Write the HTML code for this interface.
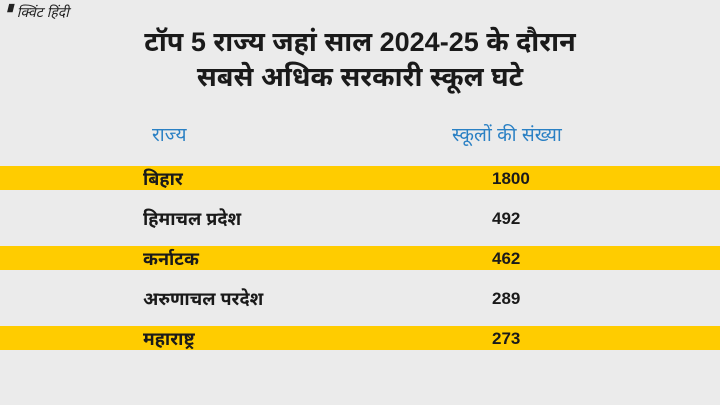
<!DOCTYPE html>
<html><head><meta charset="utf-8"><style>
body{margin:0;width:720px;height:405px;background:#ebebeb;overflow:hidden;position:relative;font-family:"Liberation Sans","Noto Sans Devanagari","Lohit Devanagari",sans-serif;}
.abs{position:absolute;white-space:nowrap;}
.title{left:0;width:720px;text-align:center;font-size:27px;font-weight:bold;color:#1a1a1a;}
.hdr{top:124px;font-size:19px;color:#2a80c4;}
.band{left:0;width:720px;height:24px;background:#ffcc00;}
.lbl{left:143px;font-size:18px;font-weight:bold;color:#1a1a1a;}
.val{left:492px;font-size:17px;font-weight:bold;color:#1a1a1a;}
</style></head><body>
<div class="abs" style="left:6px;top:4px;font-size:14px;font-style:italic;color:#222">▘क्विंट हिंदी</div>
<div class="abs title" style="top:27px">टॉप 5 राज्य जहां साल 2024-25 के दौरान</div>
<div class="abs title" style="top:62px">सबसे अधिक सरकारी स्कूल घटे</div>
<div class="abs hdr" style="left:152px">राज्य</div>
<div class="abs hdr" style="left:452px">स्कूलों की संख्या</div>
<div id="rows"></div>
<script>
const states=["बिहार","हिमाचल प्रदेश","कर्नाटक","अरुणाचल परदेश","महाराष्ट्र"];
const counts=[1800,492,462,289,273];
const rows=document.getElementById('rows');
states.forEach((s,i)=>{
  const y=166+i*40;
  if(i%2===0){
    const b=document.createElement('div');
    b.className='abs band';b.style.top=y+'px';
    
    
    rows.appendChild(b);
  }
  const l=document.createElement('div');
  l.className='abs lbl';l.style.top=(y+3)+'px';l.textContent=s;
  
  
  rows.appendChild(l);
  const v=document.createElement('div');
  v.className='abs val';v.style.top=(y+3)+'px';v.textContent=counts[i];
  
  
  rows.appendChild(v);
});
</script>
</body></html>
